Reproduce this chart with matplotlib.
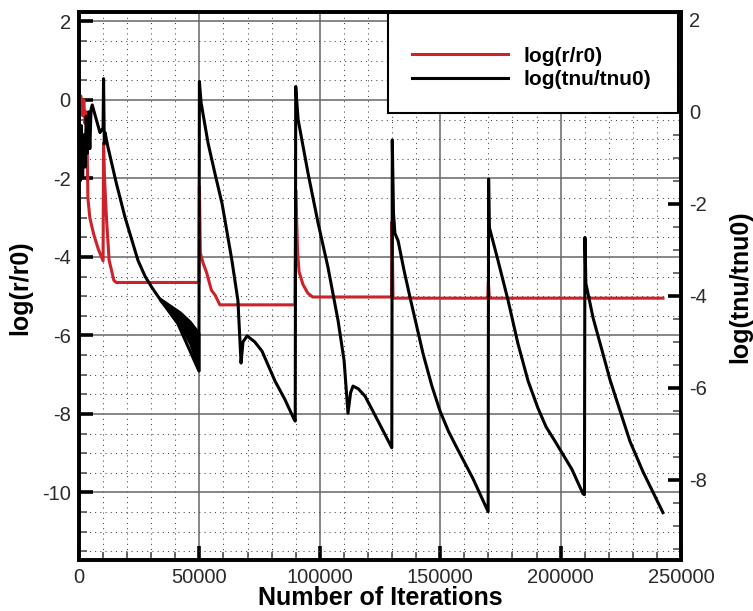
import matplotlib
matplotlib.use("Agg")
import matplotlib.pyplot as plt
from matplotlib.ticker import MultipleLocator
from matplotlib.patches import Rectangle

plt.rcParams['font.family'] = ['Liberation Sans', 'DejaVu Sans']

# ---- data ----
res_iter = [0, 800, 1500, 2000, 2500, 3000, 3400, 3700, 4500, 6000, 8000, 10000,
            10200, 10600, 11400, 12500, 14500, 15500, 49800,
            50000, 50400, 51500, 53000, 55000, 56500, 58500, 89700,
            90000, 90800, 91400, 93000, 95000, 97000, 129800,
            130000, 130400, 169800,
            170000, 170400, 242500]
res_val = [0.05, 0.1, -0.4, 0.0, -0.6, -0.3, -1.2, -2.5, -3.0, -3.4, -3.8, -4.1,
           -1.1, -2.0, -3.0, -4.08, -4.6, -4.65, -4.65,
           -2.2, -3.9, -4.15, -4.4, -4.85, -4.97, -5.22, -5.22,
           -2.3, -3.9, -4.38, -4.7, -4.92, -5.02, -5.02,
           -3.1, -5.05, -5.05,
           -4.63, -5.05, -5.05]

tnu_iter = [0, 500, 1000, 1500, 2000, 2500, 3000, 3500, 4000, 4500, 5000, 5500,
            8700, 10000, 10200, 10500, 10800, 12000, 15500, 19100, 24500, 27500, 30300, 33600,
            41000, 49800,
            50000, 50700, 53600, 56500, 59400, 63500, 66000, 67300, 68100, 69800, 73000, 76000,
            81400, 85500, 89300, 89800,
            90000, 91000, 95100, 99300, 103400, 107600, 110100, 111700, 112800, 113800, 116000,
            118800, 124200, 129600, 129900,
            130100, 130600, 131200, 132500, 135000, 137500, 142900, 146500, 149900, 153500, 157000,
            163600, 169900,
            170100, 170400, 174000, 178200, 182300, 186500, 190600, 194000, 197700, 204700, 209300,
            209900,
            210100, 210500, 213500, 217600, 220500, 223400, 228800, 234200, 238500, 242500]
tnu_val = [0.2, -1.5, -0.3, -1.4, -0.5, -1.2, -0.1, -0.9, 0.0, -0.8, 0.05, 0.15,
           -0.45, -0.35, 0.72, -0.7, -0.45, -0.76, -1.55, -2.29, -3.23, -3.58, -3.82, -4.07,
           -4.6, -5.63,
           0.66, 0.2, -0.68, -1.35, -1.99, -3.23, -4.1, -5.46, -5.0, -4.87, -5.0, -5.2,
           -5.85, -6.25, -6.68, -6.72,
           0.55, -0.17, -1.33, -2.42, -3.38, -4.54, -5.41, -6.55, -6.1, -5.96, -6.02,
           -6.18, -6.72, -7.27, -7.3,
           -0.61, -2.2, -2.64, -2.8, -3.45, -4.04, -5.26, -5.95, -6.5, -6.95, -7.31,
           -7.97, -8.69,
           -1.46, -2.51, -3.23, -4.1, -5.04, -5.85, -6.44, -6.85, -7.16, -7.77, -8.3,
           -8.32,
           -2.73, -3.73, -4.48, -5.26, -5.82, -6.29, -7.16, -7.82, -8.28, -8.71]

# oscillation band of log(tnu/tnu0) before 50000 iterations
band_iter = [33600, 37800, 42000, 46100, 49800]
band_upper = [-4.05, -4.2, -4.35, -4.55, -4.8]
band_lower = [-4.1, -4.35, -4.65, -5.05, -5.63]

x_ticks = [0, 50000, 100000, 150000, 200000, 250000]
y_left_ticks = [2, 0, -2, -4, -6, -8, -10]
y_right_ticks = [2, 0, -2, -4, -6, -8]

# ---- figure ----
W, H = 753, 611
fig = plt.figure(figsize=(W / 100, H / 100), dpi=100)
ax = fig.add_axes([79 / W, 1 - 560 / H, 602 / W, 548 / H])
ax2 = ax.twinx()

red = '#cc2229'
l1, = ax.plot(res_iter, res_val, color=red, lw=2.2, label='log(r/r0)', zorder=3)
l2, = ax2.plot(tnu_iter, tnu_val, color='black', lw=2.2, label='log(tnu/tnu0)', zorder=3)
ax2.fill_between(band_iter, band_lower, band_upper, color='black', lw=1.5, zorder=3)

ax.set_xlim(0, 250000)
ax.set_ylim(-11.72, 2.24)
ax2.set_ylim(-9.74, 2.17)

ax.set_xticks(x_ticks)
ax.set_xticklabels([str(v) for v in x_ticks])
ax.set_yticks(y_left_ticks)
ax.set_yticklabels([str(v) for v in y_left_ticks])
ax2.set_yticks(y_right_ticks)
ax2.set_yticklabels([str(v) for v in y_right_ticks])
ax.xaxis.set_minor_locator(MultipleLocator(10000))
ax.yaxis.set_minor_locator(MultipleLocator(0.5))
ax2.yaxis.set_minor_locator(MultipleLocator(0.5))

# grid
ax.grid(which='major', color='#666666', lw=1.1, ls='-', zorder=1)
ax.grid(which='minor', color='#444444', lw=0.75, ls=(0, (1, 4)), zorder=1)
ax.set_axisbelow(True)

# ticks
tick_font = 14.5
ax.tick_params(axis='both', which='major', direction='in', length=10, width=2.6,
               labelsize=tick_font, colors='black', labelcolor='#2a2a2a', pad=6)
ax.tick_params(axis='both', which='minor', direction='in', length=5.5, width=1.1, colors='#444444')
ax.tick_params(axis='y', which='both', right=False)
ax.tick_params(axis='x', which='both', top=False)
ax2.tick_params(axis='y', which='major', direction='in', length=9.5, width=2.6,
                labelsize=tick_font, labelcolor='#2a2a2a', pad=6)
ax2.tick_params(axis='y', which='minor', direction='in', length=5.5, width=1.1, colors='#444444')

for a in (ax, ax2):
    for s in a.spines.values():
        s.set_linewidth(2.6)
        s.set_color('black')

# axis labels
lab_font = dict(fontsize=18, fontweight='bold')
fig.text(380 / W, 1 - 598 / H, 'Number of Iterations', ha='center', va='center', **lab_font)
fig.text(20 / W, 1 - 288 / H, 'log(r/r0)', ha='center', va='center', rotation=90, **lab_font)
fig.text(740 / W, 1 - 287 / H, 'log(tnu/tnu0)', ha='center', va='center', rotation=90, **lab_font)

# legend box
rect = Rectangle((388 / W, 1 - 113 / H), 290 / W, 100 / H, transform=fig.transFigure,
                 facecolor='white', edgecolor='black', lw=1.5, zorder=4)
fig.add_artist(rect)
leg = fig.legend(handles=[l1, l2], loc='center left', bbox_to_anchor=(412 / W, 1 - 68 / H),
                 frameon=False, handlelength=4.6, handletextpad=0.75, labelspacing=0.22,
                 borderpad=0, borderaxespad=0, prop=dict(size=15, weight='bold'))
leg.set_zorder(6)

fig.savefig('out.png', dpi=100)
